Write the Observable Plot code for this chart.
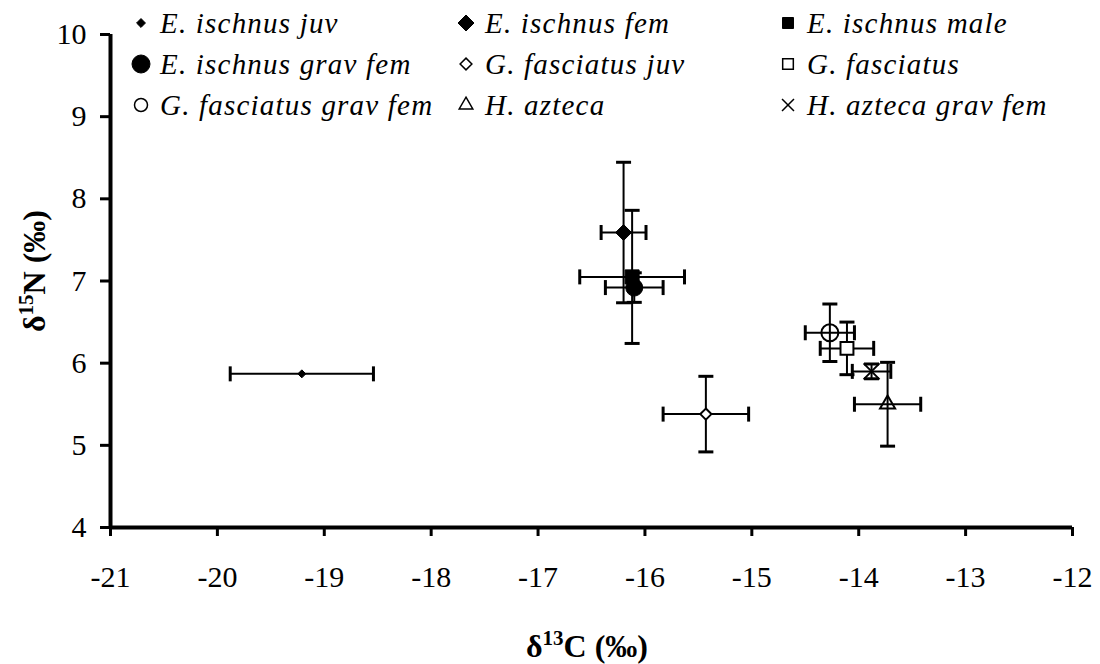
<!DOCTYPE html>
<html><head><meta charset="utf-8">
<script src="https://cdn.jsdelivr.net/npm/d3@7"></script>
<script src="https://cdn.jsdelivr.net/npm/@observablehq/plot@0.6"></script>
<style>
body{margin:0;background:#fff;}
#wrap{position:relative;width:1100px;height:664px;font-family:"Liberation Serif","Tinos","Times New Roman","DejaVu Serif",serif;color:#000;}
.leg{position:absolute;display:flex;align-items:center;height:30px;font-style:italic;font-size:29px;letter-spacing:1.2px;white-space:nowrap;line-height:1;}
.leg svg{display:block;flex:none;}
.leg span{margin-left:8px;}
</style></head><body><div id="wrap"></div>
<script>
// ---- data ----
const species = ["E. ischnus juv","E. ischnus fem","E. ischnus male","E. ischnus grav fem","G. fasciatus juv","G. fasciatus","G. fasciatus grav fem","H. azteca","H. azteca grav fem"];
const d13C    = [-19.21, -16.20, -16.12, -16.10, -15.43, -14.11, -14.27, -13.73, -13.88];
const d13CErr = [  0.67,   0.21,   0.49,   0.27,   0.40,   0.25,   0.23,   0.31,   0.18];
const d15N    = [  5.87,   7.59,   7.05,   6.92,   5.38,   6.18,   6.37,   5.50,   5.90];
const d15NErr = [  0,      0.855,  0.81,   0.18,   0.46,   0.32,   0.35,   0.51,   0.09];
const xTicks = [-21,-20,-19,-18,-17,-16,-15,-14,-13,-12];
const yTicks = [4,5,6,7,8,9,10];

// ---- styling per series ----
const symbolNames = ["diamond2","diamond2","square","circle","diamond2","square","circle","triangle2","times"];
const fills       = ["#000","#000","#000","#000","#fff","#fff","none","none","none"];
const strokeW     = [1,1,1,1,2,2,2,2,2];
const radii       = [3.6,7.2,7.9,8.5,5.0,7.3,8.5,7.2,7.3];
const legendRadii = [4,7.2,6.2,9,5.3,6,6.5,6.5,5.5];

const FONT = '"Liberation Serif","Tinos","Times New Roman","DejaVu Serif",serif';
const rows = species.map((s,i)=>({s, x:d13C[i], ex:d13CErr[i], y:d15N[i], ey:d15NErr[i], i}));

const W = 1100, H = 664, mL = 110, mR = 28, mT = 34, mB = 137;
const hcap = {draw(ctx){ ctx.moveTo(-7.5,0); ctx.lineTo(7.5,0); }};
const vcap = {draw(ctx){ ctx.moveTo(0,-7.5); ctx.lineTo(0,7.5); }};
const withY = rows.filter(d=>d.ey>0);
const withX = rows.filter(d=>d.ex>0);

const marks = [
  Plot.ruleY(withX, {y:"y", x1:d=>d.x-d.ex, x2:d=>d.x+d.ex, stroke:"#000", strokeWidth:2}),
  Plot.ruleX(withY, {x:"x", y1:d=>d.y-d.ey, y2:d=>d.y+d.ey, stroke:"#000", strokeWidth:2}),
  Plot.dot(withX, {x:d=>d.x-d.ex, y:"y", symbol:vcap, fill:"none", stroke:"#000", strokeWidth:3}),
  Plot.dot(withX, {x:d=>d.x+d.ex, y:"y", symbol:vcap, fill:"none", stroke:"#000", strokeWidth:3}),
  Plot.dot(withY, {x:"x", y:d=>d.y-d.ey, symbol:hcap, fill:"none", stroke:"#000", strokeWidth:3}),
  Plot.dot(withY, {x:"x", y:d=>d.y+d.ey, symbol:hcap, fill:"none", stroke:"#000", strokeWidth:3}),
];
rows.forEach((d,i)=>{
  marks.push(Plot.dot([d], {x:"x", y:"y", symbol:symbolNames[i], r:radii[i], fill:fills[i], stroke:"#000", strokeWidth:strokeW[i]}));
});
marks.push(
  Plot.axisX({ticks:xTicks, tickFormat:d=>String(d), tickSize:9, tickPadding:29, fontSize:30, fontFamily:FONT, strokeWidth:3, label:null}),
  Plot.axisY({ticks:yTicks, tickFormat:d=>String(d), tickSize:10, tickPadding:14, fontSize:30, fontFamily:FONT, strokeWidth:3, label:null}),
  Plot.ruleY([4], {stroke:"#000", strokeWidth:4}),
  Plot.ruleX([-21], {stroke:"#000", strokeWidth:4})
);

const chart = Plot.plot({
  width: W, height: H,
  marginLeft: mL, marginRight: mR, marginTop: mT, marginBottom: mB,
  x: {domain:[-21,-12]},
  y: {domain:[4,10]},
  style: {fontFamily:FONT, fontSize:"30px", color:"#000", background:"#fff", overflow:"visible"},
  marks
});
const wrap = document.getElementById("wrap");
wrap.appendChild(chart);

// axis titles with superscripts
const svg = d3.select(chart);
const xt = svg.append("text")
  .attr("x", (mL + W - mR)/2 - 4).attr("y", 657)
  .attr("text-anchor","middle").attr("font-weight","bold").attr("font-size",32).attr("font-family",FONT).attr("fill","#000");
xt.append("tspan").text("δ");
xt.append("tspan").attr("font-size",21).attr("dy",-12).text("13");
xt.append("tspan").attr("dy",12).text("C (‰)");
const yt = svg.append("text")
  .attr("transform","translate(45,271) rotate(-90)")
  .attr("text-anchor","middle").attr("font-weight","bold").attr("font-size",32).attr("font-family",FONT).attr("fill","#000");
yt.append("tspan").text("δ");
yt.append("tspan").attr("font-size",21).attr("dy",-12).text("15");
yt.append("tspan").attr("dy",12).text("N (‰)");

// legend (3 x 3)
const symMap = {diamond2:d3.symbolDiamond2, square:d3.symbolSquare, circle:d3.symbolCircle, triangle2:d3.symbolTriangle2, times:d3.symbolTimes};
const colX = [141, 466, 788];
const rowY = [23, 64, 105];
species.forEach((s,i)=>{
  const div = d3.select(wrap).append("div").attr("class","leg")
    .style("left",(colX[i%3]-11)+"px").style("top",(rowY[Math.floor(i/3)]-15)+"px");
  const sv = div.append("svg").attr("width",22).attr("height",30);
  const r = legendRadii[i];
  sv.append("path")
    .attr("transform","translate(11,15)")
    .attr("d", d3.symbol(symMap[symbolNames[i]], Math.PI*r*r)())
    .attr("fill", fills[i]).attr("stroke","#000").attr("stroke-width", strokeW[i]===1?1:1.5);
  div.append("span").text(s);
});
</script>
</body></html>
